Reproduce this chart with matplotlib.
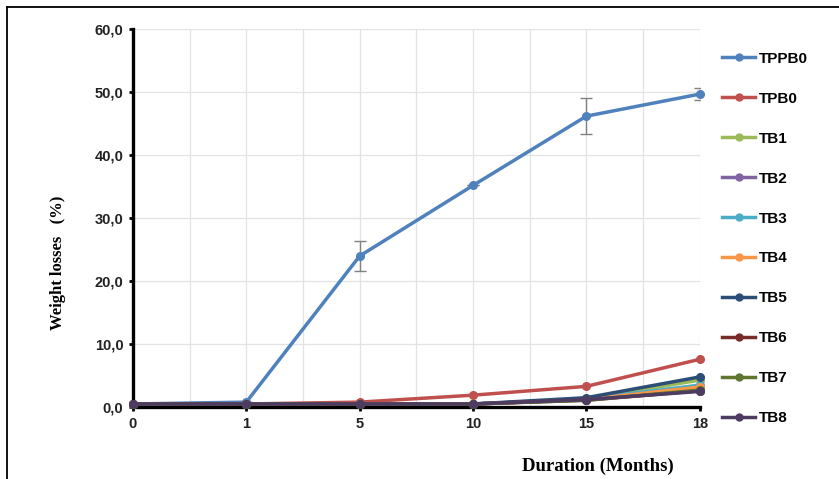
import numpy as np
import matplotlib.pyplot as plt
from matplotlib.lines import Line2D
from matplotlib.ticker import FuncFormatter, MultipleLocator

# months (categorical axis)
months = ['0', '1', '5', '10', '15', '18']
names = ['TPPB0', 'TPB0', 'TB1', 'TB2', 'TB3', 'TB4', 'TB5', 'TB6', 'TB7', 'TB8']
colors = ['#4F81BD', '#C0504D', '#9BBB59', '#8064A2', '#4BACC6',
          '#F79646', '#2C4D75', '#772C2A', '#5F7530', '#4D3B62']

# weight losses (%)
tppb0 = [0.5, 0.8, 24.0, 35.2, 46.2, 49.7]
tppb0_err = [0, 0, 2.4, 0, 2.9, 0.9]
tpb0 = [0.5, 0.5, 0.8, 1.9, 3.3, 7.6]
tb1 = [0.5, 0.5, 0.5, 0.5, 1.3, 4.3]
tb2 = [0.5, 0.5, 0.5, 0.5, 1.2, 3.0]
tb3 = [0.5, 0.5, 0.5, 0.5, 1.3, 3.5]
tb4 = [0.5, 0.5, 0.5, 0.5, 1.2, 3.2]
tb5 = [0.5, 0.5, 0.5, 0.5, 1.5, 4.8]
tb6 = [0.5, 0.5, 0.5, 0.5, 1.1, 2.6]
tb7 = [0.5, 0.5, 0.5, 0.5, 1.1, 2.7]
tb8 = [0.5, 0.5, 0.5, 0.5, 1.2, 2.5]
series = [tppb0, tpb0, tb1, tb2, tb3, tb4, tb5, tb6, tb7, tb8]

x = np.arange(len(months))

fig = plt.figure(figsize=(8.39, 4.79), dpi=100)
ax = fig.add_axes([0.1585, 0.150, 0.834 - 0.1585, 0.939 - 0.150])

ax.errorbar(x, tppb0, yerr=tppb0_err, fmt='none', ecolor='#808080',
            elinewidth=1, capsize=4, capthick=1, zorder=2)
for i in range(len(series)):
    ax.plot(x, series[i], color=colors[i], lw=2.5, marker='o', ms=5.5,
            clip_on=False, zorder=3 + i)

ax.set_xlim(0, 5)
ax.set_ylim(0, 60)
ax.set_xticks(x)
ax.set_xticklabels(months)
ax.xaxis.set_minor_locator(MultipleLocator(0.5))
ax.yaxis.set_major_locator(MultipleLocator(10))
ax.yaxis.set_major_formatter(FuncFormatter(lambda v, p: ('%.1f' % v).replace('.', ',')))
ax.grid(True, which='both', color='#e3e3e3', lw=0.9)
ax.set_axisbelow(True)
ax.tick_params(axis='x', which='minor', length=0)
ax.tick_params(axis='both', which='major', length=3, width=2, direction='out', pad=4)
for lab in ax.get_xticklabels() + ax.get_yticklabels():
    lab.set_fontfamily('Liberation Sans')
    lab.set_fontweight('bold')
    lab.set_fontsize(10.5)
    lab.set_color('#222222')
for s in ['top', 'right']:
    ax.spines[s].set_visible(False)
for s in ['left', 'bottom']:
    ax.spines[s].set_linewidth(2.4)
    ax.spines[s].set_color('black')

fig.text(58 / 839, 1 - 263 / 479, 'Weight losses   (%)', rotation=90,
         family='Liberation Serif', weight='bold', fontsize=12,
         ha='center', va='center')
fig.text(598 / 839, 1 - 466 / 479, 'Duration (Months)',
         family='Liberation Serif', weight='bold', fontsize=13.5,
         ha='center', va='center')

handles = [Line2D([], [], color=c, lw=2.5, marker='o', ms=5) for c in colors]
fig.legend(handles, names, loc='upper left', bbox_to_anchor=(0.853, 0.905),
           frameon=False, handlelength=2.2, handletextpad=0.25,
           labelspacing=1.7, borderaxespad=0,
           prop={'family': 'Liberation Sans', 'weight': 'bold', 'size': 11})

# frame lines on top and left edge
fig.add_artist(Line2D([7 / 839, 1], [1 - 7 / 479, 1 - 7 / 479], color='black', lw=1.3))
fig.add_artist(Line2D([7 / 839, 7 / 839], [0, 1 - 7 / 479], color='black', lw=1.3))

plt.savefig('out.png', dpi=100)
